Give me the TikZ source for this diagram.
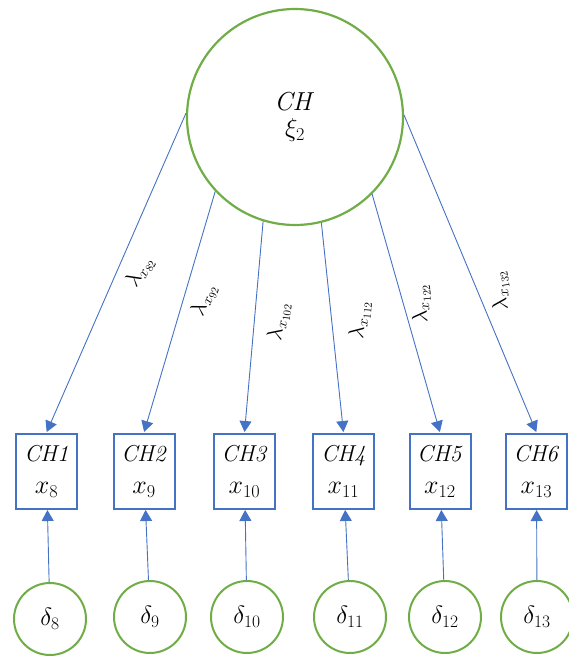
\RequirePackage{fix-cm}
\documentclass[tikz,border=0pt]{standalone}
\usetikzlibrary{arrows.meta}
\definecolor{sgreen}{RGB}{112,173,71}
\definecolor{sblue}{RGB}{68,114,196}
\newcommand{\obsvar}[1]{{\fontsize{26}{30}\selectfont$#1$}}
\begin{document}
\begin{tikzpicture}[x=1pt,y=-1pt,
  latent/.style={circle,draw=sgreen,line width=2.2pt,minimum size=216pt,inner sep=0pt,align=center,font=\fontsize{26}{30}\selectfont},
  err/.style={circle,draw=sgreen,line width=2pt,minimum size=72pt,inner sep=0pt,font=\fontsize{25}{28}\selectfont},
  obs/.style={rectangle,draw=sblue,line width=2pt,minimum width=61pt,minimum height=75pt,inner sep=0pt,align=center,font=\fontsize{23}{32}\selectfont},
  conn/.style={draw=sblue,line width=0.9pt,-{Triangle[width=12pt,length=11pt]},shorten >=0.5pt},
  lab/.style={font=\fontsize{22}{24}\selectfont,inner sep=0pt}]
\useasboundingbox (0,0) rectangle (569,657);
\node[latent] (CH) at (295,117) {$\mathit{CH}$\\[-4pt]$\xi_2$};
\node[obs] (b1) at (46.5,471) {\textit{CH1}\\\obsvar{x_{8}}};
\node[obs] (b2) at (144,471) {\textit{CH2}\\\obsvar{x_{9}}};
\node[obs] (b3) at (244.5,471) {\textit{CH3}\\\obsvar{x_{10}}};
\node[obs] (b4) at (343.5,471) {\textit{CH4}\\\obsvar{x_{11}}};
\node[obs] (b5) at (440,471) {\textit{CH5}\\\obsvar{x_{12}}};
\node[obs] (b6) at (536.5,471) {\textit{CH6}\\\obsvar{x_{13}}};
\node[err] (d1) at (50,619) {$\delta_{8}$};
\node[err] (d2) at (150,617) {$\delta_{9}$};
\node[err] (d3) at (247,617) {$\delta_{10}$};
\node[err] (d4) at (350,617) {$\delta_{11}$};
\node[err] (d5) at (445,617) {$\delta_{12}$};
\node[err] (d6) at (537,617) {$\delta_{13}$};
\draw[conn] (CH.178.4) -- (b1.north);
\draw[conn] (CH.223) -- (b2.north);
\draw[conn] (CH.253.4) -- (b3.north);
\draw[conn] (CH.284.7) -- (b4.north);
\draw[conn] (CH.315.4) -- (b5.north);
\draw[conn] (CH.1.7) -- (b6.north);
\foreach \i in {1,...,6} {\draw[conn] (d\i) -- (b\i);}
\node[lab,rotate=62] (l1) at (140,272) {$\lambda_{x_{82}}$};
\node[lab,rotate=70] (l2) at (204,300) {$\lambda_{x_{92}}$};
\node[lab,rotate=82] (l3) at (279,322) {$\lambda_{x_{102}}$};
\node[lab,rotate=85] (l4) at (360,320) {$\lambda_{x_{112}}$};
\node[lab,rotate=95] (l5) at (421,304) {$\lambda_{x_{122}}$};
\node[lab,rotate=100] (l6) at (500,291) {$\lambda_{x_{132}}$};
\end{tikzpicture}
\end{document}
